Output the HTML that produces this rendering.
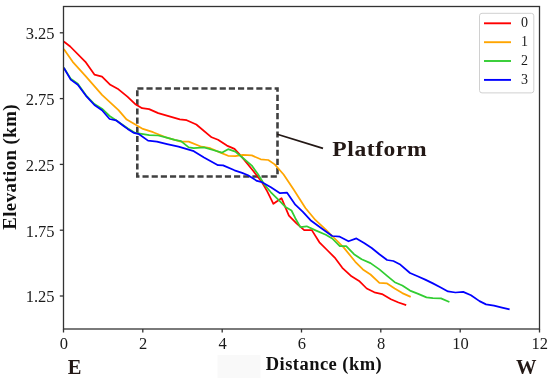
<!DOCTYPE html>
<html><head><meta charset="utf-8"><title>Elevation profile</title>
<style>
html,body{margin:0;padding:0;background:#fff;}
svg{display:block;}
text{font-family:"Liberation Serif","Times New Roman",serif;}
.tick{font-size:16.5px;fill:#1a1a1a;}
.lab{font-weight:bold;font-size:18.5px;letter-spacing:0.45px;fill:#111;}
.big{font-weight:bold;font-size:20.5px;fill:#231815;}
.leg{font-size:14px;fill:#1a1a1a;}
.ln{fill:none;stroke-width:1.75;stroke-linejoin:round;stroke-linecap:butt;}
</style></head><body>
<svg width="550" height="382" viewBox="0 0 550 382">
<rect width="550" height="382" fill="#fff"/>
<rect x="217.5" y="355" width="43" height="23" fill="#f9f9f9"/>
<path d="M137.3,88.5 H277.5 V176.5 H137.3 Z" fill="none" stroke="#404040" stroke-width="2.6" stroke-dasharray="6.15 3.005"/>
<path class="ln" stroke="#ff0000" d="M63.8,41.5 L70.2,46.5 L85.4,61.8 L94.4,74.6 L102.0,76.6 L110.3,84.8 L118.5,89.3 L127.4,96.7 L135.8,104.6 L142.1,108.2 L149.1,109.1 L158.2,113.1 L179.8,119.4 L186.7,120.2 L196.3,124.5 L211.6,137.3 L218.0,139.8 L226.9,145.6 L234.5,148.9 L241.6,156.7 L253.1,170.7 L262.0,182.2 L267.1,191.1 L273.4,203.8 L281.5,198.2 L288.9,215.6 L296.5,223.3 L304.2,230.1 L311.8,230.1 L319.4,242.3 L327.1,250.0 L334.7,257.6 L342.3,267.8 L351.5,276.3 L359.1,280.9 L366.7,288.5 L374.4,292.3 L382.0,294.1 L390.9,299.2 L398.5,302.5 L406.2,305.1"/>
<path class="ln" stroke="#ffa500" d="M63.8,49.0 L72.7,61.8 L85.4,75.8 L102.0,94.9 L118.5,110.1 L126.7,119.6 L135.3,124.5 L142.9,128.9 L153.1,132.2 L165.8,137.3 L181.0,141.6 L188.7,141.6 L201.4,146.7 L210.3,148.2 L220.5,152.6 L228.1,155.8 L235.3,156.2 L242.9,154.9 L251.8,155.4 L260.7,159.3 L268.3,160.0 L274.7,164.4 L283.6,174.5 L293.8,189.8 L305.4,208.0 L315.6,220.2 L325.8,229.6 L334.7,238.5 L343.6,247.4 L355.3,261.8 L362.9,269.4 L370.5,274.5 L379.4,282.9 L387.1,283.4 L394.7,288.5 L402.3,293.1 L410.7,296.9"/>
<path class="ln" stroke="#32cd32" d="M63.8,67.7 L70.7,78.6 L77.8,83.7 L86.7,96.2 L94.4,104.0 L102.0,108.7 L109.6,116.0 L116.0,120.3 L123.6,125.5 L127.6,128.3 L135.3,132.9 L141.6,133.9 L149.3,135.2 L158.2,135.5 L165.8,137.3 L174.7,139.8 L181.0,141.1 L188.7,147.4 L193.8,148.2 L204.0,147.4 L212.9,150.0 L221.8,152.7 L228.1,149.2 L235.3,151.6 L242.9,158.0 L251.8,165.6 L258.2,174.5 L264.5,184.7 L270.9,192.3 L279.8,201.2 L285.1,206.7 L291.5,210.5 L295.3,218.2 L300.4,227.1 L306.7,226.3 L315.6,230.4 L325.8,234.7 L332.2,238.5 L339.8,246.2 L346.2,246.2 L354.0,254.2 L361.6,259.3 L370.5,263.1 L379.4,269.4 L387.1,275.8 L394.7,282.2 L402.3,285.5 L410.0,290.6 L417.6,293.6 L426.5,297.4 L432.9,298.2 L441.0,298.4 L449.4,302.0"/>
<path class="ln" stroke="#0000ff" d="M63.8,67.7 L70.7,79.6 L77.8,84.7 L86.7,96.7 L94.4,105.0 L102.0,110.2 L109.6,119.0 L116.0,120.3 L123.6,126.0 L127.6,128.9 L134.0,132.9 L139.1,134.2 L148.0,140.6 L156.9,141.6 L167.1,144.1 L178.5,146.7 L193.8,151.2 L204.0,157.6 L218.0,165.2 L223.1,165.4 L234.5,170.3 L242.1,172.9 L248.0,175.3 L256.9,180.9 L262.0,182.2 L270.9,187.3 L280.0,193.2 L287.1,192.7 L295.3,204.7 L302.9,211.8 L310.5,220.2 L320.7,227.8 L332.2,236.0 L339.8,236.7 L348.5,241.3 L356.4,238.4 L364.1,242.9 L371.7,248.0 L379.4,254.2 L387.1,260.0 L393.4,261.0 L399.7,264.2 L410.0,273.0 L417.6,276.3 L425.2,279.6 L432.9,283.4 L440.3,287.2 L448.0,291.4 L455.4,292.5 L463.2,291.9 L471.0,295.3 L479.5,301.1 L486.0,304.4 L494.0,305.6 L502.0,307.6 L509.6,309.4"/>
<rect x="63.5" y="6.5" width="476.0" height="322.5" fill="none" stroke="#333" stroke-width="1.3"/>
<line x1="63.5" y1="329" x2="63.5" y2="332.5" stroke="#333" stroke-width="1.3"/><text class="tick" x="63.8" y="348.6" text-anchor="middle">0</text>
<line x1="142.8" y1="329" x2="142.8" y2="332.5" stroke="#333" stroke-width="1.3"/><text class="tick" x="143.1" y="348.6" text-anchor="middle">2</text>
<line x1="222.2" y1="329" x2="222.2" y2="332.5" stroke="#333" stroke-width="1.3"/><text class="tick" x="222.5" y="348.6" text-anchor="middle">4</text>
<line x1="301.5" y1="329" x2="301.5" y2="332.5" stroke="#333" stroke-width="1.3"/><text class="tick" x="301.8" y="348.6" text-anchor="middle">6</text>
<line x1="380.8" y1="329" x2="380.8" y2="332.5" stroke="#333" stroke-width="1.3"/><text class="tick" x="381.1" y="348.6" text-anchor="middle">8</text>
<line x1="460.2" y1="329" x2="460.2" y2="332.5" stroke="#333" stroke-width="1.3"/><text class="tick" x="460.5" y="348.6" text-anchor="middle">10</text>
<line x1="539.5" y1="329" x2="539.5" y2="332.5" stroke="#333" stroke-width="1.3"/><text class="tick" x="539.8" y="348.6" text-anchor="middle">12</text>
<line x1="59.8" y1="32.8" x2="63.5" y2="32.8" stroke="#333" stroke-width="1.3"/><text class="tick" x="54.6" y="39.1" text-anchor="end">3.25</text>
<line x1="59.8" y1="98.6" x2="63.5" y2="98.6" stroke="#333" stroke-width="1.3"/><text class="tick" x="54.6" y="104.9" text-anchor="end">2.75</text>
<line x1="59.8" y1="164.4" x2="63.5" y2="164.4" stroke="#333" stroke-width="1.3"/><text class="tick" x="54.6" y="170.7" text-anchor="end">2.25</text>
<line x1="59.8" y1="230.2" x2="63.5" y2="230.2" stroke="#333" stroke-width="1.3"/><text class="tick" x="54.6" y="236.5" text-anchor="end">1.75</text>
<line x1="59.8" y1="296.0" x2="63.5" y2="296.0" stroke="#333" stroke-width="1.3"/><text class="tick" x="54.6" y="302.3" text-anchor="end">1.25</text>
<line x1="277.2" y1="134.2" x2="323" y2="148.4" stroke="#231815" stroke-width="1.7"/>
<text transform="translate(332.3,156) scale(1.15,1)" style="font-weight:bold;font-size:20.5px;letter-spacing:0.5px;fill:#231815">Platform</text>
<text class="lab" style="font-size:18.8px" transform="translate(16.1,229.8) rotate(-90)">Elevation (km)</text>
<text class="lab" x="265.8" y="370">Distance (km)</text>
<text class="big" x="67.8" y="374.2">E</text>
<text class="big" x="516" y="374.4">W</text>
<rect x="479.5" y="13.3" width="54.3" height="79.6" rx="2.5" fill="#fff" stroke="#d0d0d0" stroke-width="1"/>
<line x1="484" y1="23.3" x2="511" y2="23.3" stroke="#ff0000" stroke-width="1.9"/><text class="leg" x="521" y="27.4">0</text>
<line x1="484" y1="42.2" x2="511" y2="42.2" stroke="#ffa500" stroke-width="1.9"/><text class="leg" x="521" y="46.3">1</text>
<line x1="484" y1="61.0" x2="511" y2="61.0" stroke="#32cd32" stroke-width="1.9"/><text class="leg" x="521" y="65.1">2</text>
<line x1="484" y1="79.9" x2="511" y2="79.9" stroke="#0000ff" stroke-width="1.9"/><text class="leg" x="521" y="84.0">3</text>
</svg></body></html>
